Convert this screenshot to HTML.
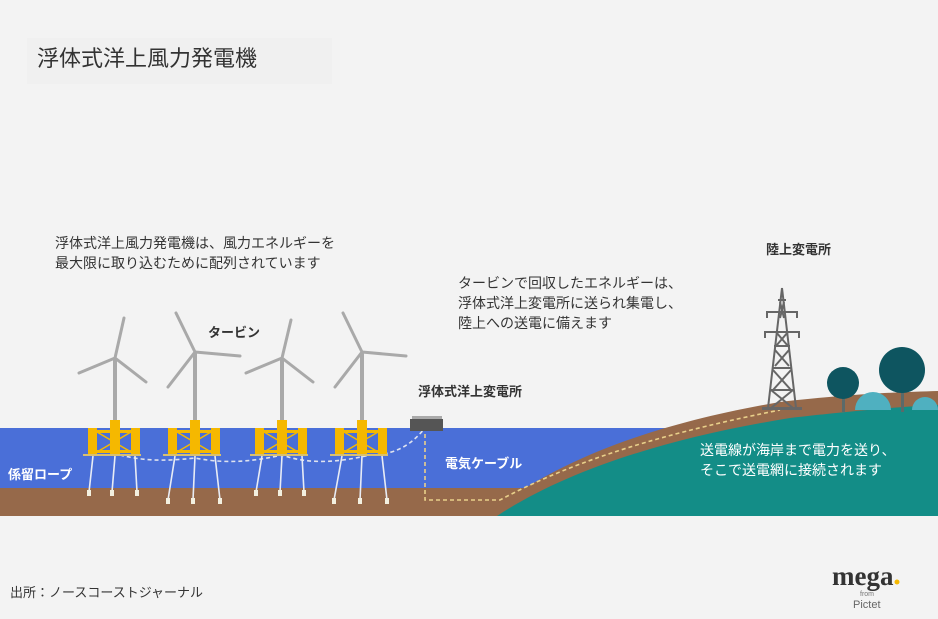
<!DOCTYPE html>
<html><head><meta charset="utf-8"><style>
html,body{margin:0;padding:0;background:#f2f2f2;}
svg{display:block;}
text{font-family:"Liberation Sans","Noto Sans CJK JP",sans-serif;}
text.serif{font-family:"Liberation Serif","DejaVu Serif",serif;}
</style></head><body>
<svg width="938" height="619" viewBox="0 0 938 619" xmlns="http://www.w3.org/2000/svg">
<rect width="938" height="619" fill="#f3f3f3"/>
<rect x="27" y="38" width="305" height="46" fill="#f0f0f0"/>
<text x="37" y="66" font-size="22" fill="#333">浮体式洋上風力発電機</text>
<text x="55" y="248" font-size="14" fill="#333">浮体式洋上風力発電機は、風力エネルギーを</text>
<text x="55" y="268" font-size="14" fill="#333">最大限に取り込むために配列されています</text>
<text x="458" y="288" font-size="14" fill="#333">タービンで回収したエネルギーは、</text>
<text x="458" y="308" font-size="14" fill="#333">浮体式洋上変電所に送られ集電し、</text>
<text x="458" y="328" font-size="14" fill="#333">陸上への送電に備えます</text>
<text x="208" y="337" font-size="13" font-weight="bold" fill="#333">タービン</text>
<text x="418" y="396" font-size="13" font-weight="bold" fill="#333">浮体式洋上変電所</text>
<text x="766" y="254" font-size="13" font-weight="bold" fill="#333">陸上変電所</text>

<rect x="0" y="428" width="720" height="64" fill="#4a6fd8"/>
<rect x="0" y="488" width="600" height="28" fill="#96694a"/>
<path d="M485,516 C550,465 640,426 780,402 C850,394 900,392 938,391 L938,516 Z" fill="#96694a"/>
<path d="M497,516 C567,470 667,438 790,418 C860,410 910,406 938,405 L938,516 Z" fill="#138d87"/>
<rect x="0" y="516" width="938" height="103" fill="#f3f3f3"/>

<path d="M425,420 L425,500 L500,500 C560,468 640,438 780,410" fill="none" stroke="#e9d08a" stroke-width="1.6" stroke-dasharray="4,3"/>
<path d="M120,455 C140,460 160,462 195,458 C230,465 260,460 282,455 C310,465 340,462 370,455 C400,455 415,440 425,428" fill="none" stroke="#dfe3ef" stroke-width="1.6" stroke-dasharray="4,3"/>
<rect x="412" y="416" width="30" height="3" fill="#aaa"/>
<rect x="410" y="419" width="33" height="12" fill="#555"/>

<g stroke="#a9a9a9" stroke-linecap="round" fill="none">
 <g stroke-width="4"><line x1="115" y1="360" x2="115" y2="430"/><line x1="195" y1="354" x2="195" y2="430"/><line x1="282" y1="360" x2="282" y2="430"/><line x1="362" y1="354" x2="362" y2="430"/></g>
 <g stroke-width="3">
  <path d="M115,358 L124,318 M115,358 L79,373 M115,358 L146,382"/>
  <path d="M195,352 L176,313 M195,352 L168,387 M195,352 L240,356"/>
  <path d="M282,358 L291,320 M282,358 L246,373 M282,358 L313,382"/>
  <path d="M362,352 L343,313 M362,352 L335,387 M362,352 L406,356"/>
 </g>
</g>
<g>
 <g id="f1">
  <g fill="#f5b800">
   <rect x="88" y="428" width="9" height="27"/><rect x="110" y="420" width="10" height="35"/><rect x="131" y="428" width="9" height="27"/>
   <rect x="97" y="430" width="34" height="3"/><rect x="97" y="450" width="34" height="3"/>
  </g>
  <path d="M97,432 L131,452 M97,452 L131,432" stroke="#f5b800" stroke-width="1.5"/>
  <rect x="83" y="454" width="58" height="2" fill="#d8c070"/>
 </g>
 <use href="#f1" x="80"/>
 <use href="#f1" x="167"/>
 <use href="#f1" x="247"/>
</g>
<g stroke="#e8ecf5" stroke-width="1.6">
 <path d="M93,456 L89,492 M115,456 L112,492 M135,456 L137,492"/>
 <path d="M175,456 L168,500 M195,456 L193,500 M215,456 L220,500"/>
 <path d="M262,456 L256,492 M282,456 L280,492 M302,456 L304,492"/>
 <path d="M342,456 L334,500 M362,456 L360,500 M382,456 L387,500"/>
</g>
<g fill="#f3f0e0">
 <rect x="87" y="490" width="4" height="6"/><rect x="110" y="490" width="4" height="6"/><rect x="135" y="490" width="4" height="6"/>
 <rect x="166" y="498" width="4" height="6"/><rect x="191" y="498" width="4" height="6"/><rect x="218" y="498" width="4" height="6"/>
 <rect x="254" y="490" width="4" height="6"/><rect x="278" y="490" width="4" height="6"/><rect x="302" y="490" width="4" height="6"/>
 <rect x="332" y="498" width="4" height="6"/><rect x="358" y="498" width="4" height="6"/><rect x="385" y="498" width="4" height="6"/>
</g>
<text x="8" y="479" font-size="13" font-weight="bold" fill="#fff">係留ロープ</text>
<text x="445" y="468" font-size="13" font-weight="bold" fill="#fff">電気ケーブル</text>
<text x="700" y="455" font-size="14" fill="#fff">送電線が海岸まで電力を送り、</text>
<text x="700" y="475" font-size="14" fill="#fff">そこで送電網に接続されます</text>

<g stroke="#666" stroke-width="2" fill="none">
 <path d="M782,288 L768,408 M782,288 L796,408"/>
 <path d="M776,332 L788,346 M788,332 L776,346 M775,350 L789,366 M789,350 L775,366 M773,370 L791,390 M791,370 L773,390 M771,390 L793,408 M793,390 L771,408"/>
 <path d="M780,302 L784,318 M784,302 L780,318"/>
 <path d="M766,312 L798,312 M764,332 L800,332 M778,300 L786,300 M774,346 L790,346 M772,368 L792,368 M770,390 L794,390"/>
 <path d="M767,312 L767,318 M797,312 L797,318 M765,332 L765,338 M799,332 L799,338"/>
</g>
<rect x="762" y="407" width="40" height="3" fill="#666"/>
<path d="M855,410 A18,18 0 0 1 891,410 Z" fill="#4fb0c0"/>
<path d="M912,410 A13,13 0 0 1 938,410 Z" fill="#4fb0c0"/>
<rect x="842" y="390" width="3" height="22" fill="#5a6a6a"/>
<rect x="901" y="380" width="3" height="32" fill="#5a6a6a"/>
<circle cx="843" cy="383" r="16" fill="#0e5560"/>
<circle cx="902" cy="370" r="23" fill="#0e5560"/>

<text x="10" y="597" font-size="13" fill="#333">出所：ノースコーストジャーナル</text>
<text class="serif" x="832" y="585" font-size="27" font-weight="bold" fill="#333">mega</text>
<circle cx="897" cy="582" r="2.5" fill="#f5b800"/>
<text x="860" y="596" font-size="7" fill="#777">from</text>
<text x="853" y="608" font-size="11" fill="#666">Pictet</text>
</svg>
</body></html>
